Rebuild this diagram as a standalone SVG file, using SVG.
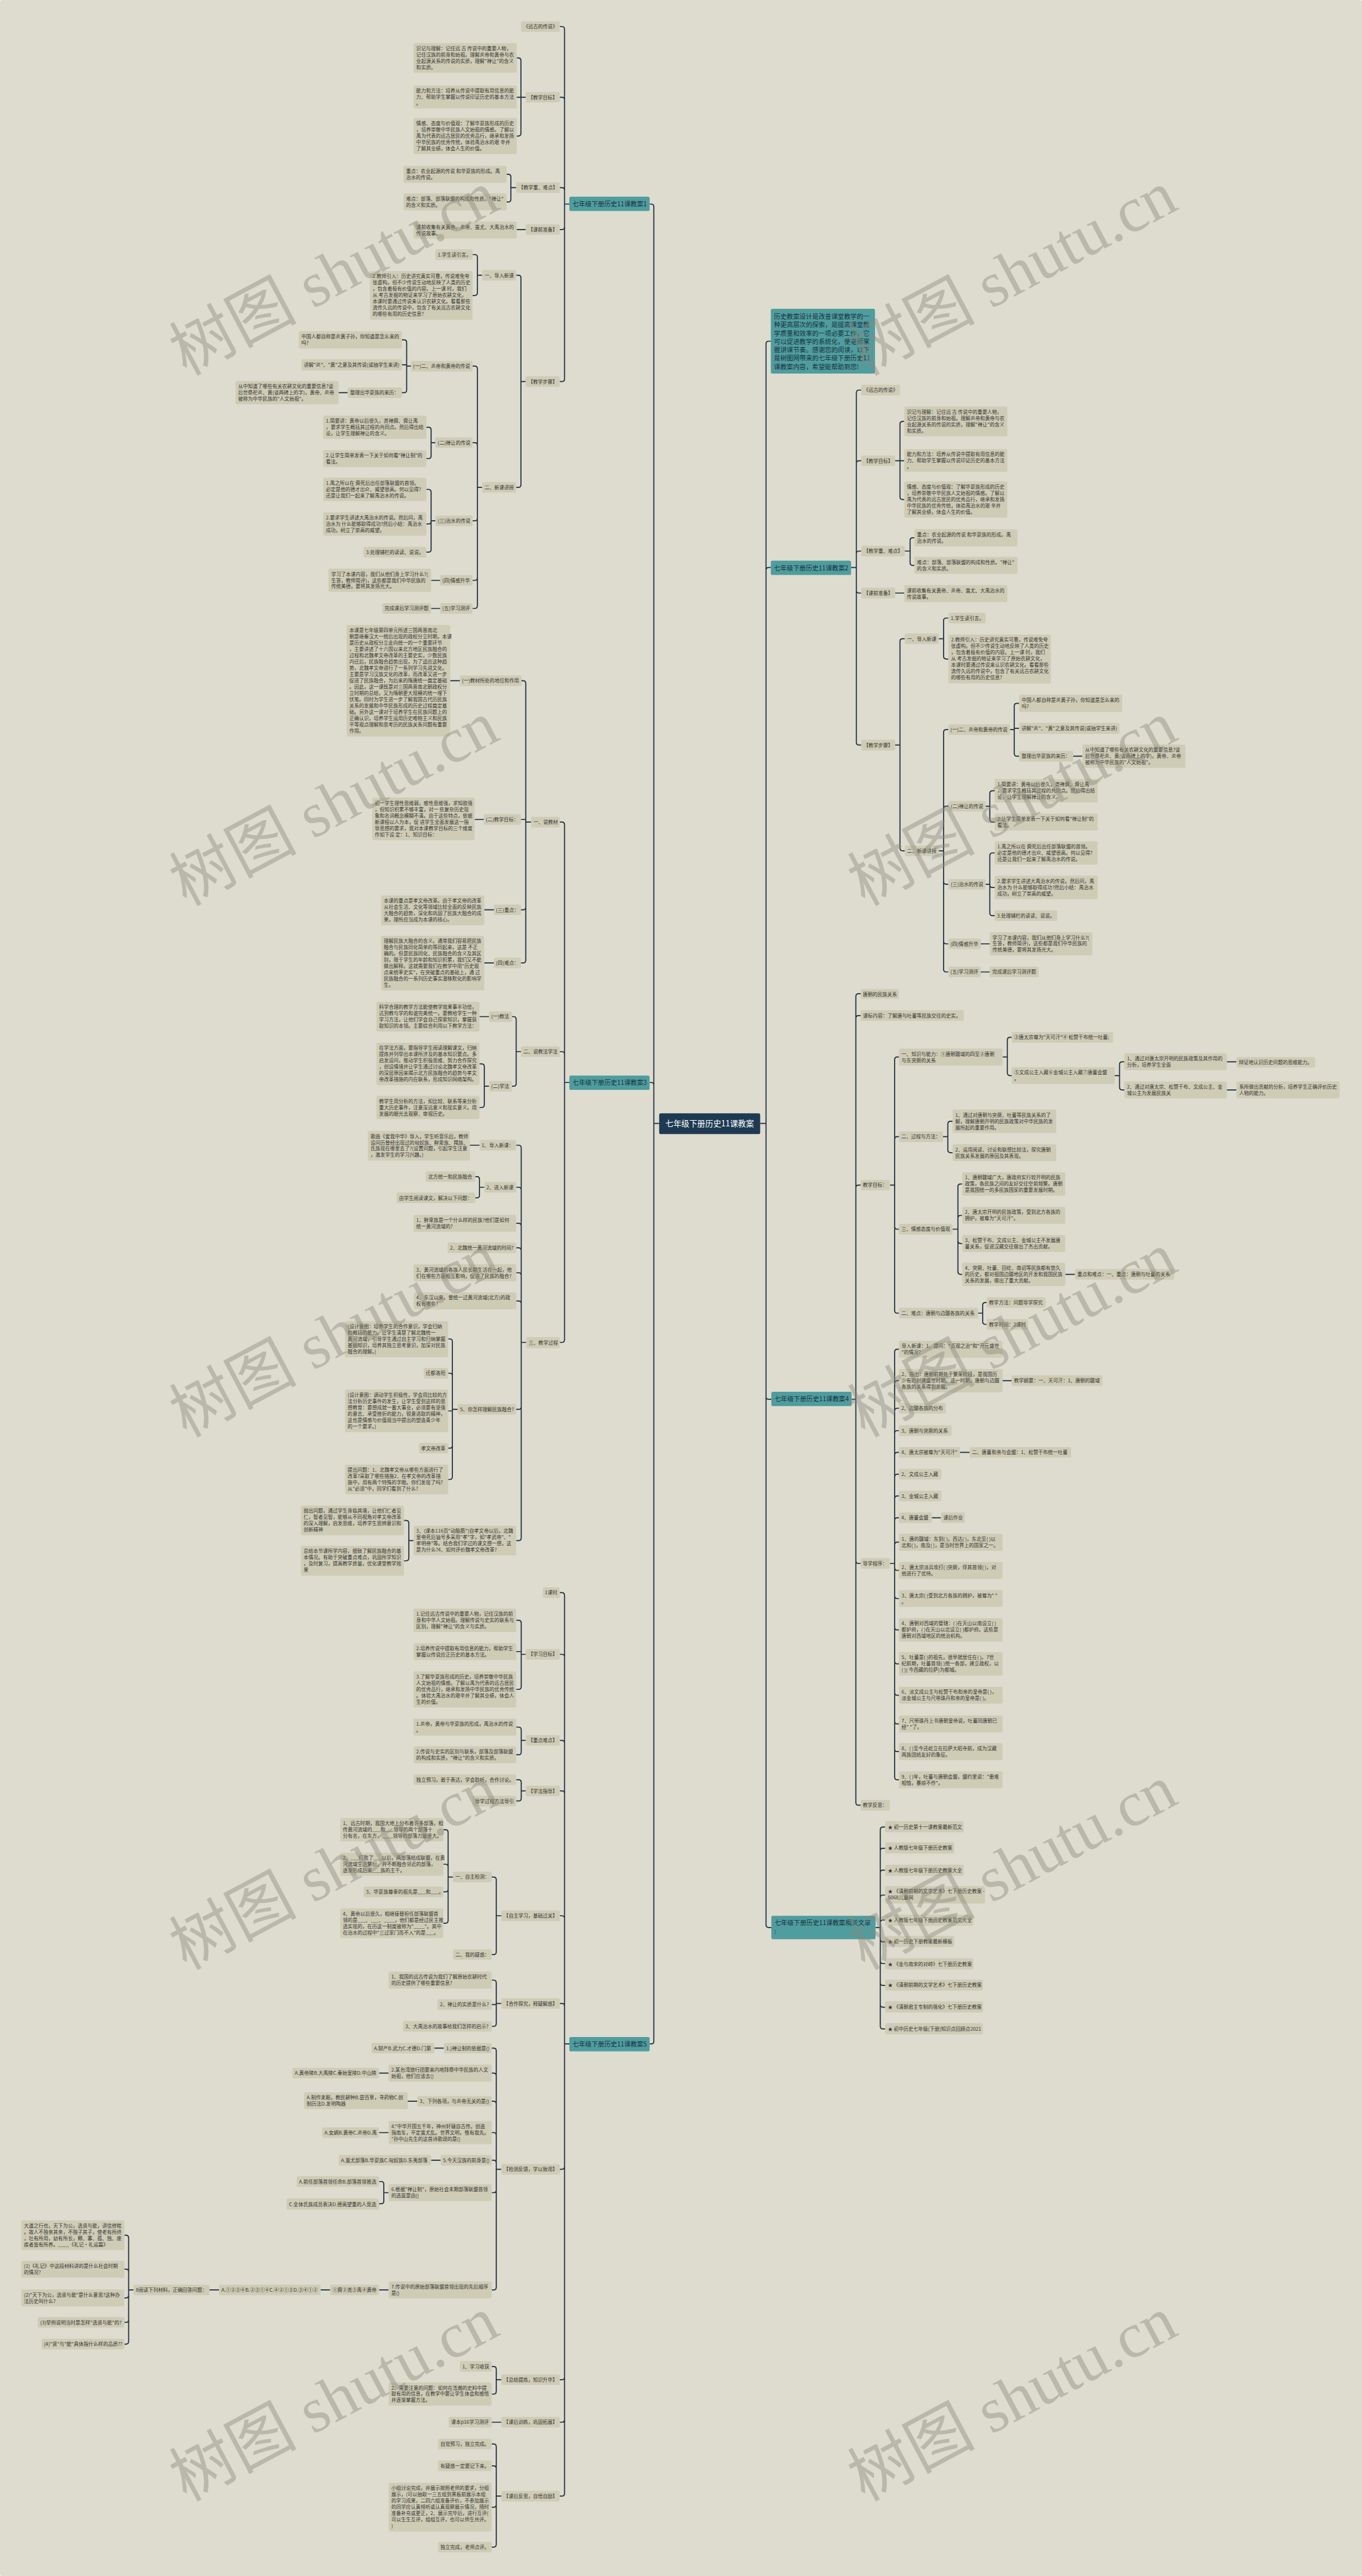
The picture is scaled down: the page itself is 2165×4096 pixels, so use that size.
<svg xmlns="http://www.w3.org/2000/svg" width="2165" height="4096" viewBox="0 0 2165 4096">
<style>
text{font-family:"Noto Sans CJK SC","Liberation Sans",sans-serif}
rect{rx:3px}
.n rect{fill:#cfccb6}
.n text{font-size:9.2px;fill:#333}
.b rect{fill:#4f9d9e}
.b text{font-size:12px;fill:#183040}
.c rect{fill:#1e3a52}
.c text{font-size:15px;fill:#fff}
.cn path{fill:none;stroke:#1d3043;stroke-width:2}
.wm text{font-family:"Liberation Serif","Noto Sans CJK SC",serif;font-size:120px;fill:#8a897a;opacity:.42}
</style>
<rect width="2165" height="4096" fill="#dedccf"/>
<g transform="scale(0.845)">
<g id="connectors" class="cn">
<path d="M1240,2114H1230M1230,2114V389Q1230,384 1225,384H1222M1230,2114V2042Q1230,2037 1225,2037H1222M1230,2114V3841Q1230,3846 1225,3846H1222M1430,2114H1441M1441,2114V647Q1441,642 1446,642H1450M1441,2114V1073Q1441,1068 1446,1068H1450M1441,2114V2628Q1441,2633 1446,2633H1451M1441,2114V3622Q1441,3627 1446,3627H1451"/>
<path d="M1071,384H1062M1062,384V55Q1062,50 1057,50H1053M1062,384V188Q1062,183 1057,183H1053M1062,384V358Q1062,353 1057,353H1053M1062,384V427Q1062,432 1057,432H1053M1062,384V713Q1062,718 1057,718H1053M989,183H980M980,183V114Q980,109 975,109H972M980,183H972M980,183V251Q980,256 975,256H972M971,353H961M961,353V333Q961,328 956,328H953M961,353V375Q961,380 956,380H953M989,432H972M989,718H980M980,718V523Q980,518 975,518H971M980,718V912Q980,917 975,917H971M907,518H898M898,518V484Q898,479 893,479H889M898,518V551Q898,556 893,556H889M907,917H898M898,917V694Q898,689 893,689H889M898,917V838Q898,833 893,833H889M898,917V975Q898,980 893,980H889M898,917V1087Q898,1092 893,1092H889M898,917V1140Q898,1145 893,1145H889M773,689H765M765,689V644.5Q765,639.5 760,639.5H756M765,689V686.5H756M765,689V734Q765,739 760,739H756M654,739H637M819,833H811M811,833V809Q811,804 806,804H802M811,833V858Q811,863 806,863H802M819,980H811M811,980V926Q811,921 806,921H802M811,980V981Q811,986 806,986H802M811,980V1034Q811,1039 806,1039H802M828,1092H811M828,1145H811"/>
<path d="M1601,1068H1611M1611,1068V739Q1611,734 1616,734H1620M1611,1068V872Q1611,867 1616,867H1620M1611,1068V1042Q1611,1037 1616,1037H1620M1611,1068V1111Q1611,1116 1616,1116H1620M1611,1068V1397Q1611,1402 1616,1402H1620M1684,867H1693M1693,867V798Q1693,793 1698,793H1701M1693,867H1701M1693,867V935Q1693,940 1698,940H1701M1702,1037H1712M1712,1037V1017Q1712,1012 1717,1012H1720M1712,1037V1059Q1712,1064 1717,1064H1720M1684,1116H1701M1684,1402H1693M1693,1402V1207Q1693,1202 1698,1202H1702M1693,1402V1596Q1693,1601 1698,1601H1702M1766,1202H1775M1775,1202V1168Q1775,1163 1780,1163H1784M1775,1202V1235Q1775,1240 1780,1240H1784M1766,1601H1775M1775,1601V1378Q1775,1373 1780,1373H1784M1775,1601V1522Q1775,1517 1780,1517H1784M1775,1601V1659Q1775,1664 1780,1664H1784M1775,1601V1771Q1775,1776 1780,1776H1784M1775,1601V1824Q1775,1829 1780,1829H1784M1900,1373H1908M1908,1373V1328.5Q1908,1323.5 1913,1323.5H1917M1908,1373V1370.5H1917M1908,1373V1418Q1908,1423 1913,1423H1917M2019,1423H2036M1854,1517H1862M1862,1517V1493Q1862,1488 1867,1488H1871M1862,1517V1542Q1862,1547 1867,1547H1871M1854,1664H1862M1862,1664V1610Q1862,1605 1867,1605H1871M1862,1664V1665Q1862,1670 1867,1670H1871M1862,1664V1718Q1862,1723 1867,1723H1871M1845,1776H1862M1845,1829H1862"/>
<path d="M1071,2037H1062M1062,2037V1552Q1062,1547 1057,1547H1053M1062,2037V1984Q1062,1979 1057,1979H1053M1062,2037V2521Q1062,2526 1057,2526H1053M999,1547H989M989,1547V1286Q989,1281 984,1281H980M989,1547V1542H980M989,1547V1707Q989,1712 984,1712H980M989,1547V1807Q989,1812 984,1812H980M865,1281H847M910,1542H893M929,1712H911M929,1812H911M980,1979H971M971,1979V1918Q971,1913 966,1913H963M971,1979V2039Q971,2044 966,2044H963M920,1913H902M920,2044H911M911,2044V2007Q911,2002 906,2002H902M911,2044V2079Q911,2084 906,2084H902M990,2526H980.5M980.5,2526V2160Q980.5,2155 975.5,2155H971M980.5,2526V2239Q980.5,2234 975.5,2234H971M980.5,2526V2307Q980.5,2302 975.5,2302H971M980.5,2526V2353Q980.5,2348 975.5,2348H971M980.5,2526V2400Q980.5,2395 975.5,2395H971M980.5,2526V2453Q980.5,2448 975.5,2448H971M980.5,2526V2647Q980.5,2652 975.5,2652H971M980.5,2526V2894Q980.5,2899 975.5,2899H971M902,2155H884M911,2234H902M902,2234V2219Q902,2214 897,2214H894M902,2234V2249Q902,2254 897,2254H894M861,2652H851M851,2652V2524.5Q851,2519.5 846,2519.5H843M851,2652V2589Q851,2584 846,2584H843M851,2652V2655H843M851,2652V2720Q851,2725 846,2725H843M851,2652V2779Q851,2784 846,2784H843M778,2899H769M769,2899V2866Q769,2861 764,2861H760M769,2899V2932Q769,2937 764,2937H760"/>
<path d="M1071,3846H1062M1062,3846V3002Q1062,2997 1057,2997H1053M1062,3846V3118Q1062,3113 1057,3113H1053M1062,3846V3280Q1062,3275 1057,3275H1053M1062,3846V3375Q1062,3370 1057,3370H1053M1062,3846V3610Q1062,3605 1057,3605H1053M1062,3846V3775Q1062,3770 1057,3770H1053M1062,3846V4077Q1062,4082 1057,4082H1053M1062,3846V4473Q1062,4478 1057,4478H1053M1062,3846V4553Q1062,4558 1057,4558H1053M1062,3846V4692Q1062,4697 1057,4697H1053M989,3113H980.5M980.5,3113V3054Q980.5,3049 975.5,3049H971M980.5,3113V3108H971M980.5,3113V3174Q980.5,3179 975.5,3179H971M989,3275H980.5M980.5,3275V3255Q980.5,3250 975.5,3250H971M980.5,3275V3297Q980.5,3302 975.5,3302H971M989,3370H980.5M980.5,3370V3354Q980.5,3349 975.5,3349H971M980.5,3370V3384Q980.5,3389 975.5,3389H971M943,3605H933.5M933.5,3605V3537Q933.5,3532 928.5,3532H925M933.5,3605V3673Q933.5,3678 928.5,3678H925M852,3532H843M843,3532V3448Q843,3443 838,3443H834M843,3532V3513Q843,3508 838,3508H834M843,3532V3555Q843,3560 838,3560H834M843,3532V3614Q843,3619 838,3619H834M943,3770H933.5M933.5,3770V3731Q933.5,3726 928.5,3726H925M933.5,3770V3772H925M933.5,3770V3808Q933.5,3813 928.5,3813H925M943,4082H933.5M933.5,4082V3859Q933.5,3854 928.5,3854H925M933.5,4082V3906Q933.5,3901 928.5,3901H925M933.5,4082V3959Q933.5,3954 928.5,3954H925M933.5,4082V4018Q933.5,4013 928.5,4013H925M933.5,4082V4070Q933.5,4065 928.5,4065H925M933.5,4082V4121Q933.5,4126 928.5,4126H925M933.5,4082V4304Q933.5,4309 928.5,4309H925M835,3854H817M731,3901H713M785,3954H767M731,4013H713M829,4065H811M731,4126H722M722,4126V4110Q722,4105 717,4105H713M722,4126V4142Q722,4147 717,4147H713M731,4309H713M621,4309H603M412,4309H394M251,4309H242M242,4309V4211Q242,4206 237,4206H234M242,4309V4275Q242,4270 237,4270H234M242,4309V4319Q242,4324 237,4324H234M242,4309V4365Q242,4370 237,4370H234M242,4309V4406Q242,4411 237,4411H234M943,4478H933.5M933.5,4478V4458Q933.5,4453 928.5,4453H925M933.5,4478V4500Q933.5,4505 928.5,4505H925M943,4558H925M943,4697H933.5M933.5,4697V4604Q933.5,4599 928.5,4599H925M933.5,4697V4645Q933.5,4640 928.5,4640H925M933.5,4697V4713Q933.5,4718 928.5,4718H925M933.5,4697V4788Q933.5,4793 928.5,4793H925"/>
<path d="M1602,2633H1610M1610,2633V1875Q1610,1870 1615,1870H1619M1610,2633V1916Q1610,1911 1615,1911H1619M1610,2633V2235Q1610,2230 1615,2230H1619M1610,2633V2937Q1610,2942 1615,2942H1619M1610,2633V3392Q1610,3397 1615,3397H1619M1674,2230H1683M1683,2230V1994Q1683,1989 1688,1989H1691M1683,2230V2144Q1683,2139 1688,2139H1691M1683,2230V2308Q1683,2313 1688,2313H1691M1683,2230V2466Q1683,2471 1688,2471H1691M1886,1989H1895M1895,1989V1957Q1895,1952 1900,1952H1903M1895,1989V2019Q1895,2024 1900,2024H1903M2097,2024H2106M2106,2024V2003Q2106,1998 2111,1998H2115M2106,2024V2046Q2106,2051 2111,2051H2115M2308,1998H2326M2308,2051H2326M1774,2139H1783M1783,2139V2115Q1783,2110 1788,2110H1792M1783,2139V2164Q1783,2169 1788,2169H1792M1792,2313H1802M1802,2313V2233Q1802,2228 1807,2228H1810M1802,2313V2292Q1802,2287 1807,2287H1810M1802,2313V2335Q1802,2340 1807,2340H1810M1802,2313V2393Q1802,2398 1807,2398H1810M2004,2398H2022M1840,2471H1848.6M1848.6,2471V2456Q1848.6,2451 1853.6,2451H1856M1848.6,2471V2487Q1848.6,2492 1853.6,2492H1856M1674,2942H1683M1683,2942V2544Q1683,2539 1688,2539H1691M1683,2942V2603Q1683,2598 1688,2598H1691M1683,2942V2655Q1683,2650 1688,2650H1691M1683,2942V2697Q1683,2692 1688,2692H1691M1683,2942V2738Q1683,2733 1688,2733H1691M1683,2942V2779Q1683,2774 1688,2774H1691M1683,2942V2820Q1683,2815 1688,2815H1691M1683,2942V2861Q1683,2856 1688,2856H1691M1683,2942V2907Q1683,2902 1688,2902H1691M1683,2942V2950Q1683,2955 1688,2955H1691M1683,2942V3003Q1683,3008 1688,3008H1691M1683,2942V3062Q1683,3067 1688,3067H1691M1683,2942V3126Q1683,3131 1688,3131H1691M1683,2942V3185Q1683,3190 1688,3190H1691M1683,2942V3239Q1683,3244 1688,3244H1691M1683,2942V3291Q1683,3296 1688,3296H1691M1683,2942V3344Q1683,3349 1688,3349H1691M1886,2598H1903M1806,2733H1824M1753,2856H1770"/>
<path d="M1647,3627H1656M1656,3627V3443Q1656,3438 1661,3438H1665M1656,3627V3483Q1656,3478 1661,3478H1665M1656,3627V3524Q1656,3519 1661,3519H1665M1656,3627V3571Q1656,3566 1661,3566H1665M1656,3627V3618Q1656,3613 1661,3613H1665M1656,3627V3649Q1656,3654 1661,3654H1665M1656,3627V3690Q1656,3695 1661,3695H1665M1656,3627V3731Q1656,3736 1661,3736H1665M1656,3627V3772Q1656,3777 1661,3777H1665M1656,3627V3813Q1656,3818 1661,3818H1665"/>
</g>

<g id="center" class="c"><rect x="1240" y="2095" width="190" height="39"/><text x="1335" y="2120" text-anchor="middle">七年级下册历史11课教案</text></g>

<g id="desc" class="b"><rect x="1450" y="581" width="196" height="122"/><text x="1456" y="600"><tspan x="1456">历史教案设计是改善课堂教学的一</tspan><tspan x="1456" dy="15.7">种更高层次的探索，是提高课堂教</tspan><tspan x="1456" dy="15.7">学质量和效率的一项必要工作，它</tspan><tspan x="1456" dy="15.7">可以促进教学的系统化，使老师掌</tspan><tspan x="1456" dy="15.7">握讲课节奏。感谢您的阅读，以下</tspan><tspan x="1456" dy="15.7">是树图网带来的七年级下册历史11</tspan><tspan x="1456" dy="15.7">课教案内容，希望能帮助到您!</tspan></text></g>

<!-- 教案1 -->
<g id="b1" class="b"><rect x="1071" y="370" width="151" height="27"/><text x="1077" y="388">七年级下册历史11课教案1</text></g>
<g id="b1-1" class="n"><rect x="980" y="40" width="73" height="20"/><text x="984.5" y="53.5">《远古的传说》</text></g>
<g id="b1-2" class="n"><rect x="989" y="173" width="64" height="20"/><text x="993.5" y="186.5">【教学目标】</text></g>
<g id="b1-2-1" class="n"><rect x="778" y="81" width="194" height="56"/><text x="783" y="94.5"><tspan x="783">识记与理解：记住远 古 传说中的重要人物，</tspan><tspan x="783" dy="11.8">记住汉族的前身和始祖。理解炎帝和黄帝与农</tspan><tspan x="783" dy="11.8">业起源关系的传说的实质，理解"禅让"的含义</tspan><tspan x="783" dy="11.8">和实质。</tspan></text></g>
<g id="b1-2-2" class="n"><rect x="778" y="161" width="194" height="43"/><text x="783" y="174.5"><tspan x="783">能力和方法：培养从传说中提取有用信息的能</tspan><tspan x="783" dy="11.8">力、帮助学生掌握以传说印证历史的基本方法</tspan><tspan x="783" dy="11.8">。</tspan></text></g>
<g id="b1-2-3" class="n"><rect x="778" y="222" width="194" height="68"/><text x="783" y="235.5"><tspan x="783">情感、态度与价值观：了解华夏族形成的历史</tspan><tspan x="783" dy="11.8">，培养崇敬中华民族人文始祖的情感。了解以</tspan><tspan x="783" dy="11.8">禹为代表的远古居民的优秀品行，继承和发扬</tspan><tspan x="783" dy="11.8">中华民族的优秀传统，体验禹治水的艰 辛并</tspan><tspan x="783" dy="11.8">了解其业绩，体会人生的价值。</tspan></text></g>
<g id="b1-3" class="n"><rect x="971" y="343" width="82" height="20"/><text x="975.5" y="356.5">【教学重、难点】</text></g>
<g id="b1-3-1" class="n"><rect x="759" y="312" width="194" height="32"/><text x="764" y="325.5"><tspan x="764">重点：农业起源的传说 和华夏族的形成。禹</tspan><tspan x="764" dy="11.8">治水的传说。</tspan></text></g>
<g id="b1-3-2" class="n"><rect x="759" y="364" width="194" height="32"/><text x="764" y="377.5"><tspan x="764">难点：部落、部落联盟的构成和性质。"禅让"</tspan><tspan x="764" dy="11.8">的含义和实质。</tspan></text></g>
<g id="b1-4" class="n"><rect x="989" y="422" width="64" height="20"/><text x="993.5" y="435.5">【课前准备】</text></g>
<g id="b1-4-1" class="n"><rect x="778" y="417" width="194" height="32"/><text x="783" y="430.5"><tspan x="783">课前收集有关黄帝、炎帝、蚩尤、大禹治水的</tspan><tspan x="783" dy="11.8">传说故事。</tspan></text></g>
<g id="b1-5" class="n"><rect x="989" y="708" width="64" height="20"/><text x="993.5" y="721.5">【教学步骤】</text></g>
<g id="b1-5-1" class="n"><rect x="907" y="508" width="64" height="20"/><text x="911.5" y="521.5">一、导入新课</text></g>
<g id="b1-5-1-1" class="n"><rect x="819" y="469" width="70" height="20"/><text x="823.5" y="482.5">1.学生读引言。</text></g>
<g id="b1-5-1-2" class="n"><rect x="696" y="510" width="193" height="92"/><text x="701" y="523.5"><tspan x="701">2.教师引入：历史讲究真实可靠，传说难免夸</tspan><tspan x="701" dy="11.8">张虚构。但不少传说生动地反映了人类的历史</tspan><tspan x="701" dy="11.8">，包含着极有价值的内容。上一课 时，我们</tspan><tspan x="701" dy="11.8">从 考古发掘的物证来学习了原始农耕文化，</tspan><tspan x="701" dy="11.8">本课时要通过传说来认识农耕文化。看看那些</tspan><tspan x="701" dy="11.8">流传久远的传说中，包含了有关远古农耕文化</tspan><tspan x="701" dy="11.8">的哪些有用的历史信息?</tspan></text></g>
<g id="b1-5-2" class="n"><rect x="907" y="907" width="64" height="20"/><text x="911.5" y="920.5">二、新课讲授</text></g>
<g id="b1-5-2-1" class="n"><rect x="773" y="679" width="116" height="20"/><text x="777" y="692.5">(一)二、炎帝和黄帝的传说</text></g>
<g id="b1-5-2-1-1" class="n"><rect x="562" y="623" width="194" height="33"/><text x="567" y="636.5"><tspan x="567">中国人都自称是炎黄子孙，你知道是怎么来的</tspan><tspan x="567" dy="11.8">吗?</tspan></text></g>
<g id="b1-5-2-1-2" class="n"><rect x="567" y="676" width="189" height="21"/><text x="571.5" y="690">讲解"炎"、"黄"之意及其传说(或抽学生来讲)</text></g>
<g id="b1-5-2-1-3" class="n"><rect x="654" y="729" width="102" height="20"/><text x="658.5" y="742.5">整理出华夏族的来历：</text></g>
<g id="b1-5-2-1-3-1" class="n"><rect x="443" y="717" width="194" height="44"/><text x="448" y="730.5"><tspan x="448">从中知道了哪些有关农耕文化的重要信息?谈</tspan><tspan x="448" dy="11.8">后世祭祀炎、黄(谈两碑上的字)，黄帝、炎帝</tspan><tspan x="448" dy="11.8">被称为中华民族的"人文始祖"。</tspan></text></g>
<g id="b1-5-2-2" class="n"><rect x="819" y="823" width="70" height="20"/><text x="823.5" y="836.5">(二)禅让的传说</text></g>
<g id="b1-5-2-2-1" class="n"><rect x="608" y="782" width="194" height="44"/><text x="613" y="795.5"><tspan x="613">1.简要讲：黄帝以后很久，尧禅舜、舜让禹</tspan><tspan x="613" dy="11.8">，要求学生概括其过程的共同点。然后得出结</tspan><tspan x="613" dy="11.8">论，让学生理解禅让的含义。</tspan></text></g>
<g id="b1-5-2-2-2" class="n"><rect x="608" y="847" width="194" height="32"/><text x="613" y="860.5"><tspan x="613">2.让学生简单发表一下关于如何看"禅让制"的</tspan><tspan x="613" dy="11.8">看法。</tspan></text></g>
<g id="b1-5-2-3" class="n"><rect x="819" y="970" width="70" height="20"/><text x="823.5" y="983.5">(三)治水的传说</text></g>
<g id="b1-5-2-3-1" class="n"><rect x="608" y="899" width="194" height="44"/><text x="613" y="912.5"><tspan x="613">1.禹之所以在 舜死后出任部落联盟的首领。</tspan><tspan x="613" dy="11.8">必定是他的德才出众、威望很高。何以见得?</tspan><tspan x="613" dy="11.8">还是让我们一起来了解禹治水的传说。</tspan></text></g>
<g id="b1-5-2-3-2" class="n"><rect x="608" y="964" width="194" height="44"/><text x="613" y="977.5"><tspan x="613">2.要求学生讲述大禹治水的传说。然后问，禹</tspan><tspan x="613" dy="11.8">治水为 什么能够取得成功?然后小结：禹治水</tspan><tspan x="613" dy="11.8">成功，树立了崇高的威望。</tspan></text></g>
<g id="b1-5-2-3-3" class="n"><rect x="684" y="1029" width="118" height="20"/><text x="688.5" y="1042.5">3.处理辅栏的读读、说说。</text></g>
<g id="b1-5-2-4" class="n"><rect x="828" y="1082" width="61" height="20"/><text x="832" y="1095.5">(四)情感升华</text></g>
<g id="b1-5-2-4-1" class="n"><rect x="618" y="1070" width="193" height="44"/><text x="623" y="1083.5"><tspan x="623">学习了本课内容，我们从他们身上学习什么?(</tspan><tspan x="623" dy="11.8">生答，教师简评)，这些都是我们中华民族的</tspan><tspan x="623" dy="11.8">传统美德，要将其发扬光大。</tspan></text></g>
<g id="b1-5-2-5" class="n"><rect x="828" y="1135" width="61" height="20"/><text x="832" y="1148.5">(五)学习测评</text></g>
<g id="b1-5-2-5-1" class="n"><rect x="719" y="1135" width="92" height="20"/><text x="723.5" y="1148.5">完成课后学习测评题</text></g>

<!-- 教案2 -->
<g id="b2" class="b"><rect x="1450" y="1055" width="151" height="27"/><text x="1456" y="1073">七年级下册历史11课教案2</text></g>
<g id="b2-1" class="n"><rect x="1620" y="724" width="73" height="20"/><text x="1624.5" y="737.5">《远古的传说》</text></g>
<g id="b2-2" class="n"><rect x="1620" y="857" width="64" height="20"/><text x="1624.5" y="870.5">【教学目标】</text></g>
<g id="b2-2-1" class="n"><rect x="1701" y="765" width="194" height="56"/><text x="1706" y="778.5"><tspan x="1706">识记与理解：记住远 古 传说中的重要人物，</tspan><tspan x="1706" dy="11.8">记住汉族的前身和始祖。理解炎帝和黄帝与农</tspan><tspan x="1706" dy="11.8">业起源关系的传说的实质，理解"禅让"的含义</tspan><tspan x="1706" dy="11.8">和实质。</tspan></text></g>
<g id="b2-2-2" class="n"><rect x="1701" y="845" width="194" height="43"/><text x="1706" y="858.5"><tspan x="1706">能力和方法：培养从传说中提取有用信息的能</tspan><tspan x="1706" dy="11.8">力、帮助学生掌握以传说印证历史的基本方法</tspan><tspan x="1706" dy="11.8">。</tspan></text></g>
<g id="b2-2-3" class="n"><rect x="1701" y="906" width="194" height="68"/><text x="1706" y="919.5"><tspan x="1706">情感、态度与价值观：了解华夏族形成的历史</tspan><tspan x="1706" dy="11.8">，培养崇敬中华民族人文始祖的情感。了解以</tspan><tspan x="1706" dy="11.8">禹为代表的远古居民的优秀品行，继承和发扬</tspan><tspan x="1706" dy="11.8">中华民族的优秀传统，体验禹治水的艰 辛并</tspan><tspan x="1706" dy="11.8">了解其业绩，体会人生的价值。</tspan></text></g>
<g id="b2-3" class="n"><rect x="1620" y="1027" width="82" height="20"/><text x="1624.5" y="1040.5">【教学重、难点】</text></g>
<g id="b2-3-1" class="n"><rect x="1720" y="996" width="194" height="32"/><text x="1725" y="1009.5"><tspan x="1725">重点：农业起源的传说 和华夏族的形成。禹</tspan><tspan x="1725" dy="11.8">治水的传说。</tspan></text></g>
<g id="b2-3-2" class="n"><rect x="1720" y="1048" width="194" height="32"/><text x="1725" y="1061.5"><tspan x="1725">难点：部落、部落联盟的构成和性质。"禅让"</tspan><tspan x="1725" dy="11.8">的含义和实质。</tspan></text></g>
<g id="b2-4" class="n"><rect x="1620" y="1106" width="64" height="20"/><text x="1624.5" y="1119.5">【课前准备】</text></g>
<g id="b2-4-1" class="n"><rect x="1701" y="1101" width="194" height="32"/><text x="1706" y="1114.5"><tspan x="1706">课前收集有关黄帝、炎帝、蚩尤、大禹治水的</tspan><tspan x="1706" dy="11.8">传说故事。</tspan></text></g>
<g id="b2-5" class="n"><rect x="1620" y="1392" width="64" height="20"/><text x="1624.5" y="1405.5">【教学步骤】</text></g>
<g id="b2-5-1" class="n"><rect x="1702" y="1192" width="64" height="20"/><text x="1706.5" y="1205.5">一、导入新课</text></g>
<g id="b2-5-1-1" class="n"><rect x="1784" y="1153" width="70" height="20"/><text x="1788.5" y="1166.5">1.学生读引言。</text></g>
<g id="b2-5-1-2" class="n"><rect x="1784" y="1194" width="193" height="92"/><text x="1789" y="1207.5"><tspan x="1789">2.教师引入：历史讲究真实可靠，传说难免夸</tspan><tspan x="1789" dy="11.8">张虚构。但不少传说生动地反映了人类的历史</tspan><tspan x="1789" dy="11.8">，包含着极有价值的内容。上一课 时，我们</tspan><tspan x="1789" dy="11.8">从 考古发掘的物证来学习了原始农耕文化，</tspan><tspan x="1789" dy="11.8">本课时要通过传说来认识农耕文化。看看那些</tspan><tspan x="1789" dy="11.8">流传久远的传说中，包含了有关远古农耕文化</tspan><tspan x="1789" dy="11.8">的哪些有用的历史信息?</tspan></text></g>
<g id="b2-5-2" class="n"><rect x="1702" y="1591" width="64" height="20"/><text x="1706.5" y="1604.5">二、新课讲授</text></g>
<g id="b2-5-2-1" class="n"><rect x="1784" y="1363" width="116" height="20"/><text x="1788" y="1376.5">(一)二、炎帝和黄帝的传说</text></g>
<g id="b2-5-2-1-1" class="n"><rect x="1917" y="1307" width="194" height="33"/><text x="1922" y="1320.5"><tspan x="1922">中国人都自称是炎黄子孙，你知道是怎么来的</tspan><tspan x="1922" dy="11.8">吗?</tspan></text></g>
<g id="b2-5-2-1-2" class="n"><rect x="1917" y="1360" width="189" height="21"/><text x="1921.5" y="1374">讲解"炎"、"黄"之意及其传说(或抽学生来讲)</text></g>
<g id="b2-5-2-1-3" class="n"><rect x="1917" y="1413" width="102" height="20"/><text x="1921.5" y="1426.5">整理出华夏族的来历：</text></g>
<g id="b2-5-2-1-3-1" class="n"><rect x="2036" y="1401" width="194" height="44"/><text x="2041" y="1414.5"><tspan x="2041">从中知道了哪些有关农耕文化的重要信息?谈</tspan><tspan x="2041" dy="11.8">后世祭祀炎、黄(谈两碑上的字)，黄帝、炎帝</tspan><tspan x="2041" dy="11.8">被称为中华民族的"人文始祖"。</tspan></text></g>
<g id="b2-5-2-2" class="n"><rect x="1784" y="1507" width="70" height="20"/><text x="1788.5" y="1520.5">(二)禅让的传说</text></g>
<g id="b2-5-2-2-1" class="n"><rect x="1871" y="1466" width="194" height="44"/><text x="1876" y="1479.5"><tspan x="1876">1.简要讲：黄帝以后很久，尧禅舜、舜让禹</tspan><tspan x="1876" dy="11.8">，要求学生概括其过程的共同点。然后得出结</tspan><tspan x="1876" dy="11.8">论，让学生理解禅让的含义。</tspan></text></g>
<g id="b2-5-2-2-2" class="n"><rect x="1871" y="1531" width="194" height="32"/><text x="1876" y="1544.5"><tspan x="1876">2.让学生简单发表一下关于如何看"禅让制"的</tspan><tspan x="1876" dy="11.8">看法。</tspan></text></g>
<g id="b2-5-2-3" class="n"><rect x="1784" y="1654" width="70" height="20"/><text x="1788.5" y="1667.5">(三)治水的传说</text></g>
<g id="b2-5-2-3-1" class="n"><rect x="1871" y="1583" width="194" height="44"/><text x="1876" y="1596.5"><tspan x="1876">1.禹之所以在 舜死后出任部落联盟的首领。</tspan><tspan x="1876" dy="11.8">必定是他的德才出众、威望很高。何以见得?</tspan><tspan x="1876" dy="11.8">还是让我们一起来了解禹治水的传说。</tspan></text></g>
<g id="b2-5-2-3-2" class="n"><rect x="1871" y="1648" width="194" height="44"/><text x="1876" y="1661.5"><tspan x="1876">2.要求学生讲述大禹治水的传说。然后问，禹</tspan><tspan x="1876" dy="11.8">治水为 什么能够取得成功?然后小结：禹治水</tspan><tspan x="1876" dy="11.8">成功，树立了崇高的威望。</tspan></text></g>
<g id="b2-5-2-3-3" class="n"><rect x="1871" y="1713" width="118" height="20"/><text x="1875.5" y="1726.5">3.处理辅栏的读读、说说。</text></g>
<g id="b2-5-2-4" class="n"><rect x="1784" y="1766" width="61" height="20"/><text x="1788" y="1779.5">(四)情感升华</text></g>
<g id="b2-5-2-4-1" class="n"><rect x="1862" y="1754" width="193" height="44"/><text x="1867" y="1767.5"><tspan x="1867">学习了本课内容，我们从他们身上学习什么?(</tspan><tspan x="1867" dy="11.8">生答，教师简评)，这些都是我们中华民族的</tspan><tspan x="1867" dy="11.8">传统美德，要将其发扬光大。</tspan></text></g>
<g id="b2-5-2-5" class="n"><rect x="1784" y="1819" width="61" height="20"/><text x="1788" y="1832.5">(五)学习测评</text></g>
<g id="b2-5-2-5-1" class="n"><rect x="1862" y="1819" width="92" height="20"/><text x="1866.5" y="1832.5">完成课后学习测评题</text></g>

<!-- 教案3 -->
<g id="b3" class="b"><rect x="1071" y="2024" width="151" height="27"/><text x="1077" y="2042">七年级下册历史11课教案3</text></g>
<g id="b3-1" class="n"><rect x="999" y="1537" width="54" height="20"/><text x="1003.5" y="1550.5">一、说教材</text></g>
<g id="b3-1-1" class="n"><rect x="865" y="1271" width="116" height="20"/><text x="869" y="1284.5">(一)教材所处的地位和作用</text></g>
<g id="b3-1-1-1" class="n"><rect x="652" y="1176" width="195" height="210"/><text x="657" y="1189.5"><tspan x="657">本课是七年级第四单元所述三国两晋南北</tspan><tspan x="657" dy="11.8">朝是继秦汉大一统后出现的政权分立时期，本课</tspan><tspan x="657" dy="11.8">是历史从政权分立走向统一的一个重要环节</tspan><tspan x="657" dy="11.8">，主要讲述了十六国以来北方地区民族融合的</tspan><tspan x="657" dy="11.8">过程和北魏孝文帝改革的主要史实，少数民族</tspan><tspan x="657" dy="11.8">内迁后，民族融合趋势出现，为了适应这种趋</tspan><tspan x="657" dy="11.8">势，北魏孝文帝进行了一系列学习先进文化，</tspan><tspan x="657" dy="11.8">主要是学习汉族文化的改革，而改革又进一步</tspan><tspan x="657" dy="11.8">促进了民族融合，为后来的隋唐统一奠定基础</tspan><tspan x="657" dy="11.8">。因此，这一课既是对三国两晋南北朝政权分</tspan><tspan x="657" dy="11.8">立时期的总结，又为隋朝更大规模的统一埋下</tspan><tspan x="657" dy="11.8">伏笔。同时为学生进一步了解我国古代历民族</tspan><tspan x="657" dy="11.8">关系的发展和中华民族形成的历史过程奠定基</tspan><tspan x="657" dy="11.8">础。另外这一课对于培养学生在民族问题上的</tspan><tspan x="657" dy="11.8">正确认识，培养学生运用历史唯物主义和民族</tspan><tspan x="657" dy="11.8">平等观点理解和思考历的民族关系问题有重要</tspan><tspan x="657" dy="11.8">作用。</tspan></text></g>
<g id="b3-1-2" class="n"><rect x="910" y="1532" width="70" height="20"/><text x="914" y="1545.5">(二)教学目标：</text></g>
<g id="b3-1-2-1" class="n"><rect x="700" y="1501" width="193" height="80"/><text x="705" y="1514.5"><tspan x="705">初一学生理性思维弱，感性思维强，求知欲强</tspan><tspan x="705" dy="11.8">，但知识积累不够丰富，对一 些复杂历史现</tspan><tspan x="705" dy="11.8">象和名词概念模糊不清。由于这些特点，依据</tspan><tspan x="705" dy="11.8">新课程以人为本，促 进学生全面发展这一指</tspan><tspan x="705" dy="11.8">导思想的要求，我对本课教学目标的三个维度</tspan><tspan x="705" dy="11.8">作如下设 定：1、知识目标：</tspan></text></g>
<g id="b3-1-3" class="n"><rect x="929" y="1702" width="51" height="20"/><text x="933" y="1715.5">(三)重点：</text></g>
<g id="b3-1-3-1" class="n"><rect x="717" y="1685" width="194" height="56"/><text x="722" y="1698.5"><tspan x="722">本课的重点是孝文帝改革。由于孝文帝的改革</tspan><tspan x="722" dy="11.8">从社会生活、文化等领域比较全面的反映民族</tspan><tspan x="722" dy="11.8">大融合的趋势，深化和巩固了民族大融合的成</tspan><tspan x="722" dy="11.8">果，理所应当成为本课的核心。</tspan></text></g>
<g id="b3-1-4" class="n"><rect x="929" y="1802" width="51" height="20"/><text x="933" y="1815.5">(四)难点：</text></g>
<g id="b3-1-4-1" class="n"><rect x="717" y="1761" width="194" height="103"/><text x="722" y="1774.5"><tspan x="722">理解民族大融合的含义。通常我们容易把民族</tspan><tspan x="722" dy="11.8">融合与民族同化简单的等同起来，这是 不正</tspan><tspan x="722" dy="11.8">确的。但是民族同化、民族融合的含义及其区</tspan><tspan x="722" dy="11.8">别，限于学生的年龄和知识积累，我们又不能</tspan><tspan x="722" dy="11.8">做出解释。这就需要我们在教学中用"历史观</tspan><tspan x="722" dy="11.8">点来统率史实"，在突破重点的基础上，通 过</tspan><tspan x="722" dy="11.8">民族融合的一系列历史事实潜移默化的影响学</tspan><tspan x="722" dy="11.8">生。</tspan></text></g>
<g id="b3-2" class="n"><rect x="980" y="1969" width="73" height="20"/><text x="984.5" y="1982.5">二、说教法学法</text></g>
<g id="b3-2-1" class="n"><rect x="920" y="1903" width="43" height="20"/><text x="924" y="1916.5">(一)教法</text></g>
<g id="b3-2-1-1" class="n"><rect x="708" y="1885" width="194" height="56"/><text x="713" y="1898.5"><tspan x="713">科学合理的教学方法能使教学效果事半功倍，</tspan><tspan x="713" dy="11.8">达到教与学的和谐完美统一。要教给学生一种</tspan><tspan x="713" dy="11.8">学习方法，让他们学会自己探索知识，掌握获</tspan><tspan x="713" dy="11.8">取知识的本领。主要综合利用以下教学方法：</tspan></text></g>
<g id="b3-2-2" class="n"><rect x="920" y="2034" width="43" height="20"/><text x="924" y="2047.5">(二)学法</text></g>
<g id="b3-2-2-1" class="n"><rect x="708" y="1962" width="194" height="80"/><text x="713" y="1975.5"><tspan x="713">在学法方面，要指导学生阅读理解课文，归纳</tspan><tspan x="713" dy="11.8">提炼并列举出本课所涉及的基本知识要点。多</tspan><tspan x="713" dy="11.8">启发设问，推动学生积极思维、努力合作探究</tspan><tspan x="713" dy="11.8">，创设情境并让学生通过讨论北魏孝文帝改革</tspan><tspan x="713" dy="11.8">的深层原因来揭示北方民族融合的趋势与孝文</tspan><tspan x="713" dy="11.8">帝改革措施的内在联系，形成知识网络架构。</tspan></text></g>
<g id="b3-2-2-2" class="n"><rect x="708" y="2062" width="194" height="44"/><text x="713" y="2075.5"><tspan x="713">教学生用分析的方法，如比较、联系等来分析</tspan><tspan x="713" dy="11.8">重大历史事件，注意深远意义和现实意义。用</tspan><tspan x="713" dy="11.8">发展的眼光去观察、审视历史。</tspan></text></g>
<g id="b3-3" class="n"><rect x="990" y="2516" width="63" height="21"/><text x="994.5" y="2530">三、教学过程</text></g>
<g id="b3-3-1" class="n"><rect x="902" y="2145" width="69" height="20"/><text x="906" y="2158.5">1、导入新课：</text></g>
<g id="b3-3-1-1" class="n"><rect x="692" y="2128" width="192" height="56"/><text x="697" y="2141.5"><tspan x="697">歌曲《爱我中华》导入，学生听音乐后，教师</tspan><tspan x="697" dy="11.8">设问历曾经出现过的匈奴族、鲜卑族、羯族、</tspan><tspan x="697" dy="11.8">氐族现在哪里去了?(设置问题，引起学生注意</tspan><tspan x="697" dy="11.8">，激发学生的学习兴趣。)</tspan></text></g>
<g id="b3-3-2" class="n"><rect x="911" y="2224" width="60" height="20"/><text x="915" y="2237.5">2、进入新课</text></g>
<g id="b3-3-2-1" class="n"><rect x="801" y="2204" width="93" height="20"/><text x="805.5" y="2217.5">北方统一和民族融合</text></g>
<g id="b3-3-2-2" class="n"><rect x="746" y="2244" width="148" height="20"/><text x="750.5" y="2257.5">由学生阅读课文，解决以下问题：</text></g>
<g id="b3-3-3" class="n"><rect x="778" y="2286" width="193" height="32"/><text x="783" y="2299.5"><tspan x="783">1、鲜卑族是一个什么样的民族?他们是如何</tspan><tspan x="783" dy="11.8">统一黄河流域的?</tspan></text></g>
<g id="b3-3-4" class="n"><rect x="842" y="2338" width="129" height="20"/><text x="846.5" y="2351.5">2、北魏统一黄河流域的时间?</text></g>
<g id="b3-3-5" class="n"><rect x="778" y="2379" width="193" height="32"/><text x="783" y="2392.5"><tspan x="783">3、黄河流域的各族人民长期生活在一起，他</tspan><tspan x="783" dy="11.8">们在哪些方面相互影响，促进了民族的融合?</tspan></text></g>
<g id="b3-3-6" class="n"><rect x="778" y="2432" width="193" height="32"/><text x="783" y="2445.5"><tspan x="783">4、东汉以来，曾统一过黄河流域(北方)的政</tspan><tspan x="783" dy="11.8">权有哪些?</tspan></text></g>
<g id="b3-3-7" class="n"><rect x="861" y="2642" width="110" height="20"/><text x="865.5" y="2655.5">5、你怎样理解民族融合?</text></g>
<g id="b3-3-7-1" class="n"><rect x="649" y="2486" width="194" height="68"/><text x="654" y="2499.5"><tspan x="654">(设计意图：培养学生的合作意识，学会归纳</tspan><tspan x="654" dy="11.8">和概括的能力。让学生清楚了解北魏统一</tspan><tspan x="654" dy="11.8">黄河流域，引导学生通过自主学习和归纳掌握</tspan><tspan x="654" dy="11.8">基础知识，培养其独立思考意识，加深对民族</tspan><tspan x="654" dy="11.8">融合的理解。)</tspan></text></g>
<g id="b3-3-7-2" class="n"><rect x="797" y="2574" width="46" height="20"/><text x="801" y="2587.5">迁都洛阳</text></g>
<g id="b3-3-7-3" class="n"><rect x="649" y="2615" width="194" height="80"/><text x="654" y="2628.5"><tspan x="654">(设计意图：调动学生积极性，学会用比较的方</tspan><tspan x="654" dy="11.8">法分析历史事件的发生，让学生受到这样的思</tspan><tspan x="654" dy="11.8">想教育：要想成就一番大事业，必须要有坚强</tspan><tspan x="654" dy="11.8">的意志、承受挫折的能力，锐意进取的精神，</tspan><tspan x="654" dy="11.8">这也是情感与价值观当中提出的塑造青少年</tspan><tspan x="654" dy="11.8">的一个要求。)</tspan></text></g>
<g id="b3-3-7-4" class="n"><rect x="788" y="2715" width="55" height="20"/><text x="792" y="2728.5">孝文帝改革</text></g>
<g id="b3-3-7-5" class="n"><rect x="649" y="2756" width="194" height="56"/><text x="654" y="2769.5"><tspan x="654">提出问题：1、北魏孝文帝从哪些方面进行了</tspan><tspan x="654" dy="11.8">改革?采取了哪些措施2、在孝文帝的改革措</tspan><tspan x="654" dy="11.8">施中，用有两个特殊的字眼。你们发现了吗?</tspan><tspan x="654" dy="11.8">从"必须"中，同学们看到了什么?</tspan></text></g>
<g id="b3-3-8" class="n"><rect x="778" y="2871" width="193" height="56"/><text x="783" y="2884.5"><tspan x="783">3、(课本116页"动脑筋")自孝文帝以后，北魏</tspan><tspan x="783" dy="11.8">皇帝死后谥号多采用"孝"字，如"孝武帝"、"</tspan><tspan x="783" dy="11.8">孝明帝"等。结合我们学过的课文想一想，这</tspan><tspan x="783" dy="11.8">是为什么?4、如何评价魏孝文帝改革?</tspan></text></g>
<g id="b3-3-8-1" class="n"><rect x="566" y="2833" width="194" height="56"/><text x="571" y="2846.5"><tspan x="571">抛出问题，通过学生身临其境，让他们仁者见</tspan><tspan x="571" dy="11.8">仁，智者见智，能够从不同视角对孝文帝改革</tspan><tspan x="571" dy="11.8">的深入理解，启发思维，培养学生思辨意识和</tspan><tspan x="571" dy="11.8">创新精神</tspan></text></g>
<g id="b3-3-8-2" class="n"><rect x="566" y="2909" width="194" height="56"/><text x="571" y="2922.5"><tspan x="571">总结本节课所学内容，细致了解民族融合的基</tspan><tspan x="571" dy="11.8">本情况。有助于突破重点难点，巩固所学知识</tspan><tspan x="571" dy="11.8">，及时复习，提高教学质量，优化课堂教学效</tspan><tspan x="571" dy="11.8">果</tspan></text></g>

<!-- 教案5 -->
<g id="b5" class="b"><rect x="1071" y="3833" width="151" height="27"/><text x="1077" y="3851">七年级下册历史11课教案5</text></g>
<g id="b5-1" class="n"><rect x="1021" y="2987" width="32" height="20"/><text x="1025" y="3000.5">1课时</text></g>
<g id="b5-2" class="n"><rect x="989" y="3103" width="64" height="20"/><text x="993.5" y="3116.5">【学习目标】</text></g>
<g id="b5-2-1" class="n"><rect x="778" y="3027" width="193" height="44"/><text x="783" y="3040.5"><tspan x="783">1.记住远古传说中的重要人物，记住汉族的前</tspan><tspan x="783" dy="11.8">身和中华人文始祖。理解传说与史实的联系与</tspan><tspan x="783" dy="11.8">区别，理解"禅让"的含义与实质。</tspan></text></g>
<g id="b5-2-2" class="n"><rect x="778" y="3092" width="193" height="32"/><text x="783" y="3105.5"><tspan x="783">2.培养传说中提取有用信息的能力，帮助学生</tspan><tspan x="783" dy="11.8">掌握以传说应正历史的基本方法。</tspan></text></g>
<g id="b5-2-3" class="n"><rect x="778" y="3145" width="193" height="68"/><text x="783" y="3158.5"><tspan x="783">3.了解华夏族形成的历史，培养崇敬中华民族</tspan><tspan x="783" dy="11.8">人文始祖的情感。了解以禹为代表的远古居民</tspan><tspan x="783" dy="11.8">的优秀品行，继承和发扬中华民族的优秀传统</tspan><tspan x="783" dy="11.8">。体验大禹治水的艰辛并了解其业绩，体会人</tspan><tspan x="783" dy="11.8">生的价值。</tspan></text></g>
<g id="b5-3" class="n"><rect x="989" y="3265" width="64" height="20"/><text x="993.5" y="3278.5">【重点难点】</text></g>
<g id="b5-3-1" class="n"><rect x="778" y="3234" width="193" height="32"/><text x="783" y="3247.5"><tspan x="783">1.炎帝，黄帝与华夏族的形成，禹治水的传说</tspan><tspan x="783" dy="11.8">。</tspan></text></g>
<g id="b5-3-2" class="n"><rect x="778" y="3286" width="193" height="32"/><text x="783" y="3299.5"><tspan x="783">2.传说与史实的区别与联系，部落及部落联盟</tspan><tspan x="783" dy="11.8">的构成和实质，"禅让"的含义和实质。</tspan></text></g>
<g id="b5-4" class="n"><rect x="989" y="3360" width="64" height="20"/><text x="993.5" y="3373.5">【学法指导】</text></g>
<g id="b5-4-1" class="n"><rect x="778" y="3339" width="193" height="20"/><text x="783" y="3352.5">独立预习，敢于表达，学会聆听，合作讨论。</text></g>
<g id="b5-4-2" class="n"><rect x="889" y="3379" width="82" height="20"/><text x="893.5" y="3392.5">导学过程方法导引</text></g>
<g id="b5-5" class="n"><rect x="943" y="3595" width="110" height="20"/><text x="947.5" y="3608.5">【自主学习，基础过关】</text></g>
<g id="b5-5-1" class="n"><rect x="852" y="3522" width="73" height="20"/><text x="856.5" y="3535.5">一、自主检测：</text></g>
<g id="b5-5-1-1" class="n"><rect x="640" y="3421" width="194" height="44"/><text x="645" y="3434.5"><tspan x="645">1、远古时期，我国大地上分布着许多部落，相</tspan><tspan x="645" dy="11.8">传黄河流域的___和___领导的两个部落十</tspan><tspan x="645" dy="11.8">分有名，在东方，____领导的部落力量很大。</tspan></text></g>
<g id="b5-5-1-2" class="n"><rect x="640" y="3486" width="194" height="44"/><text x="645" y="3499.5"><tspan x="645">2、___打败了___以后，两部落结成联盟，在黄</tspan><tspan x="645" dy="11.8">河流域生活繁衍，并不断融合邻近的部落，</tspan><tspan x="645" dy="11.8">逐渐形成后来___族的主干。</tspan></text></g>
<g id="b5-5-1-3" class="n"><rect x="684" y="3550" width="150" height="20"/><text x="688.5" y="3563.5">3、华夏族尊奉的祖先是___和___。</text></g>
<g id="b5-5-1-4" class="n"><rect x="640" y="3591" width="194" height="56"/><text x="645" y="3604.5"><tspan x="645">4、黄帝以后很久，相继接替担任部落联盟首</tspan><tspan x="645" dy="11.8">领的是___、___、____，他们都是经过民主推</tspan><tspan x="645" dy="11.8">选实现的，在历这一制度被称为"____"。其中</tspan><tspan x="645" dy="11.8">在治水的过程中"三过家门而不入"的是___。</tspan></text></g>
<g id="b5-5-2" class="n"><rect x="852" y="3668" width="73" height="20"/><text x="856.5" y="3681.5">二、我的疑惑：</text></g>
<g id="b5-6" class="n"><rect x="943" y="3760" width="110" height="20"/><text x="947.5" y="3773.5">【合作探究，释疑解惑】</text></g>
<g id="b5-6-1" class="n"><rect x="731" y="3710" width="194" height="32"/><text x="736" y="3723.5"><tspan x="736">1、我国的远古传说为我们了解原始农耕时代</tspan><tspan x="736" dy="11.8">的历史提供了哪些重要信息?</tspan></text></g>
<g id="b5-6-2" class="n"><rect x="823" y="3762" width="102" height="20"/><text x="827.5" y="3775.5">2、禅让的实质是什么?</text></g>
<g id="b5-6-3" class="n"><rect x="758" y="3803" width="167" height="20"/><text x="762.5" y="3816.5">3、大禹治水的故事给我们怎样的启示?</text></g>
<g id="b5-7" class="n"><rect x="943" y="4072" width="110" height="20"/><text x="947.5" y="4085.5">【检测反馈，学以致用】</text></g>
<g id="b5-7-1" class="n"><rect x="835" y="3844" width="90" height="20"/><text x="839.5" y="3857.5">1.)禅让制的依据是()</text></g>
<g id="b5-7-1-1" class="n"><rect x="699" y="3844" width="118" height="20"/><text x="703.5" y="3857.5">A.财产B.武力C.才德D.门第</text></g>
<g id="b5-7-2" class="n"><rect x="731" y="3885" width="194" height="32"/><text x="736" y="3898.5"><tspan x="736">2.某台湾旅行团要来内地拜祭中华民族的人文</tspan><tspan x="736" dy="11.8">始祖，他们应该去()</tspan></text></g>
<g id="b5-7-2-1" class="n"><rect x="550" y="3891" width="163" height="20"/><text x="554.5" y="3904.5">A.黄帝陵B.大禹陵C.秦始皇陵D.中山陵</text></g>
<g id="b5-7-3" class="n"><rect x="785" y="3944" width="140" height="20"/><text x="789.5" y="3957.5">3、下列各项，与炎帝无关的是()</text></g>
<g id="b5-7-3-1" class="n"><rect x="572" y="3937" width="195" height="32"/><text x="577" y="3950.5"><tspan x="577">A.制作耒耜，教民耕种B.尝百草，寻药物C.创</tspan><tspan x="577" dy="11.8">制历法D.发明陶器</tspan></text></g>
<g id="b5-7-4" class="n"><rect x="731" y="3991" width="194" height="44"/><text x="736" y="4004.5"><tspan x="736">4."中华开国五千年，神州轩辕自古传。创造</tspan><tspan x="736" dy="11.8">指南车，平定蚩尤乱。世界文明，惟有我先。</tspan><tspan x="736" dy="11.8">"孙中山先生的这首诗歌颂的是()</tspan></text></g>
<g id="b5-7-4-1" class="n"><rect x="606" y="4003" width="107" height="20"/><text x="610.5" y="4016.5">A.女娲B.黄帝C.炎帝D.禹</text></g>
<g id="b5-7-5" class="n"><rect x="829" y="4055" width="96" height="20"/><text x="833.5" y="4068.5">5.今天汉族的前身是()</text></g>
<g id="b5-7-5-1" class="n"><rect x="637" y="4055" width="174" height="20"/><text x="641.5" y="4068.5">A.蚩尤部落B.华夏族C.匈奴族D.东夷部落</text></g>
<g id="b5-7-6" class="n"><rect x="731" y="4110" width="194" height="32"/><text x="736" y="4123.5"><tspan x="736">6.根据"禅让制"，原始社会末期部落联盟首领</tspan><tspan x="736" dy="11.8">的选拔是由()</tspan></text></g>
<g id="b5-7-6-1" class="n"><rect x="558" y="4095" width="155" height="20"/><text x="562.5" y="4108.5">A.前任部落首领任命B.部落首领推选</text></g>
<g id="b5-7-6-2" class="n"><rect x="539" y="4137" width="174" height="21"/><text x="543.5" y="4151">C.全体氏族成员表决D.德高望重的人竞选</text></g>
<g id="b5-7-7" class="n"><rect x="731" y="4293" width="194" height="32"/><text x="736" y="4306.5"><tspan x="736">7.传说中的原始部落联盟首领出现的先后顺序</tspan><tspan x="736" dy="11.8">是()</tspan></text></g>
<g id="b5-7-7-1" class="n"><rect x="621" y="4299" width="92" height="20"/><text x="625.5" y="4312.5">①舜②尧③禹④黄帝</text></g>
<g id="b5-7-7-2" class="n"><rect x="412" y="4299" width="191" height="20"/><text x="416.5" y="4312.5">A.①②③④B.②③①④C.④②①③D.③④①②</text></g>
<g id="b5-7-7-3" class="n"><rect x="251" y="4299" width="143" height="20"/><text x="255.5" y="4312.5">8阅读下列材料，正确回答问题：</text></g>
<g id="b5-7-7-3-1" class="n"><rect x="40" y="4178" width="194" height="56"/><text x="45" y="4191.5"><tspan x="45">大道之行也，天下为公，选贤与能，讲信修睦</tspan><tspan x="45" dy="11.8">。故人不独亲其亲，不独子其子，使老有所终</tspan><tspan x="45" dy="11.8">，壮有所用，幼有所长，鳏、寡、孤、独、废</tspan><tspan x="45" dy="11.8">疾者皆有所养。____《礼记•礼运篇》</tspan></text></g>
<g id="b5-7-7-3-2" class="n"><rect x="40" y="4254" width="194" height="32"/><text x="45" y="4267.5"><tspan x="45">(1)《礼记》中这段材料讲的是什么社会时期</tspan><tspan x="45" dy="11.8">的情况?</tspan></text></g>
<g id="b5-7-7-3-3" class="n"><rect x="40" y="4308" width="194" height="32"/><text x="45" y="4321.5"><tspan x="45">(2)"天下为公，选贤与能"是什么意思?这种办</tspan><tspan x="45" dy="11.8">法历史叫什么?</tspan></text></g>
<g id="b5-7-7-3-4" class="n"><rect x="71" y="4360" width="163" height="20"/><text x="75.5" y="4373.5">(3)举例说明当时是怎样"选贤与能"的?</text></g>
<g id="b5-7-7-3-5" class="n"><rect x="78" y="4401" width="156" height="20"/><text x="82.5" y="4414.5">(4)"贤"与"能"具体指什么样的品质??</text></g>
<g id="b5-8" class="n"><rect x="943" y="4468" width="110" height="20"/><text x="947.5" y="4481.5">【总结提炼，知识升华】</text></g>
<g id="b5-8-1" class="n"><rect x="865" y="4443" width="60" height="20"/><text x="869.5" y="4456.5">1、学习收获</text></g>
<g id="b5-8-2" class="n"><rect x="731" y="4483" width="194" height="44"/><text x="736" y="4496.5"><tspan x="736">2、需要注意的问题：如何在浩瀚的史料中提</tspan><tspan x="736" dy="11.8">取有用的信息，在教学中要让学生体会和感悟</tspan><tspan x="736" dy="11.8">并逐渐掌握方法。</tspan></text></g>
<g id="b5-9" class="n"><rect x="943" y="4548" width="110" height="20"/><text x="947.5" y="4561.5">【课后训练，巩固拓展】</text></g>
<g id="b5-9-1" class="n"><rect x="844" y="4548" width="81" height="20"/><text x="848.5" y="4561.5">课本p16学习测评</text></g>
<g id="b5-10" class="n"><rect x="943" y="4687" width="110" height="20"/><text x="947.5" y="4700.5">【课后反思，自悟自励】</text></g>
<g id="b5-10-1" class="n"><rect x="824" y="4589" width="101" height="20"/><text x="828.5" y="4602.5">自觉预习，独立完成。</text></g>
<g id="b5-10-2" class="n"><rect x="824" y="4630" width="101" height="20"/><text x="828.5" y="4643.5">有疑惑一定要记下来。</text></g>
<g id="b5-10-3" class="n"><rect x="731" y="4672" width="194" height="92"/><text x="736" y="4685.5"><tspan x="736">小组讨论完成，并展示按照老师的要求，分组</tspan><tspan x="736" dy="11.8">展示，(可以抽取一三五组到黑板前展示本组</tspan><tspan x="736" dy="11.8">的学习成果，二四六组准备评价，不参加展示</tspan><tspan x="736" dy="11.8">的同学应认真倾听或认真观察展示情况，随时</tspan><tspan x="736" dy="11.8">准备补充或更正，2、展示完毕后，进行互评(</tspan><tspan x="736" dy="11.8">可以生生互评，组组互评，也可以师生共评。</tspan><tspan x="736" dy="11.8">)</tspan></text></g>
<g id="b5-10-4" class="n"><rect x="824" y="4783" width="101" height="20"/><text x="828.5" y="4796.5">独立完成，老师点评。</text></g>

<!-- 教案4 -->
<g id="b4" class="b"><rect x="1451" y="2619" width="151" height="27"/><text x="1457" y="2637">七年级下册历史11课教案4</text></g>
<g id="b4-1" class="n"><rect x="1619" y="1861" width="72" height="19"/><text x="1623" y="1874">唐朝的民族关系</text></g>
<g id="b4-2" class="n"><rect x="1619" y="1901" width="194" height="20"/><text x="1623.5" y="1914.5">课标内容：了解唐与吐蕃等民族交往的史实。</text></g>
<g id="b4-3" class="n"><rect x="1619" y="2220" width="55" height="20"/><text x="1623" y="2233.5">教学目标：</text></g>
<g id="b4-3-1" class="n"><rect x="1691" y="1973" width="195" height="32"/><text x="1696" y="1986.5"><tspan x="1696">一、知识与能力：①唐朝疆域的四至②唐朝</tspan><tspan x="1696" dy="11.8">与东突厥的关系</tspan></text></g>
<g id="b4-3-1-1" class="n"><rect x="1903" y="1942" width="191" height="20"/><text x="1907.5" y="1955.5">③唐太宗尊为"天可汗"④ 松赞干布统一吐蕃;</text></g>
<g id="b4-3-1-2" class="n"><rect x="1903" y="2008" width="194" height="32"/><text x="1908" y="2021.5"><tspan x="1908">⑤文成公主入藏⑥金城公主入藏⑦唐蕃会盟</tspan><tspan x="1908" dy="11.8">。</tspan></text></g>
<g id="b4-3-1-2-1" class="n"><rect x="2115" y="1982" width="193" height="32"/><text x="2120" y="1995.5"><tspan x="2120">1、通过对唐太宗开明的民族政策及其作用的</tspan><tspan x="2120" dy="11.8">分析，培养学生全面</tspan></text></g>
<g id="b4-3-1-2-1-1" class="n"><rect x="2326" y="1989" width="148" height="20"/><text x="2330.5" y="2002.5">辩证地认识历史问题的思维能力。</text></g>
<g id="b4-3-1-2-2" class="n"><rect x="2115" y="2035" width="193" height="32"/><text x="2120" y="2048.5"><tspan x="2120">2、通过对唐太宗、松赞干布、文成公主、金</tspan><tspan x="2120" dy="11.8">城公主为发展民族关</tspan></text></g>
<g id="b4-3-1-2-2-1" class="n"><rect x="2326" y="2035" width="194" height="32"/><text x="2331" y="2048.5"><tspan x="2331">系所做出贡献的分析，培养学生正确评价历史</tspan><tspan x="2331" dy="11.8">人物的能力。</tspan></text></g>
<g id="b4-3-2" class="n"><rect x="1691" y="2129" width="83" height="20"/><text x="1695.5" y="2142.5">二、过程与方法：</text></g>
<g id="b4-3-2-1" class="n"><rect x="1792" y="2088" width="195" height="44"/><text x="1797" y="2101.5"><tspan x="1797">1、通过对唐朝与突厥、吐蕃等民族关系的了</tspan><tspan x="1797" dy="11.8">解，理解唐朝开明的民族政策对中华民族的发</tspan><tspan x="1797" dy="11.8">展所起的重要作用。</tspan></text></g>
<g id="b4-3-2-2" class="n"><rect x="1792" y="2153" width="195" height="32"/><text x="1797" y="2166.5"><tspan x="1797">2、运用阅读、讨论和联想比较法，探究唐朝</tspan><tspan x="1797" dy="11.8">民族关系发展的原因及其表现。</tspan></text></g>
<g id="b4-3-3" class="n"><rect x="1691" y="2303" width="101" height="20"/><text x="1695.5" y="2316.5">三、情感态度与价值观</text></g>
<g id="b4-3-3-1" class="n"><rect x="1810" y="2206" width="194" height="44"/><text x="1815" y="2219.5"><tspan x="1815">1、唐朝疆域广大，唐政府实行较开明的民族</tspan><tspan x="1815" dy="11.8">政策，各民族之间的友好交往空前频繁。唐朝</tspan><tspan x="1815" dy="11.8">是我国统一的多民族国家的重要发展时期。</tspan></text></g>
<g id="b4-3-3-2" class="n"><rect x="1810" y="2271" width="194" height="32"/><text x="1815" y="2284.5"><tspan x="1815">2、唐太宗开明的民族政策，受到北方各族的</tspan><tspan x="1815" dy="11.8">拥护，被尊为"天可汗"。</tspan></text></g>
<g id="b4-3-3-3" class="n"><rect x="1810" y="2324" width="194" height="32"/><text x="1815" y="2337.5"><tspan x="1815">3、松赞干布、文成公主、金城公主不发展唐</tspan><tspan x="1815" dy="11.8">蕃关系，促进汉藏交往做出了杰出贡献。</tspan></text></g>
<g id="b4-3-3-4" class="n"><rect x="1810" y="2376" width="194" height="44"/><text x="1815" y="2389.5"><tspan x="1815">4、突厥、吐蕃、回纥、南诏等民族都有悠久</tspan><tspan x="1815" dy="11.8">的历史，都对祖国边疆地区的开发和我国民族</tspan><tspan x="1815" dy="11.8">关系的发展，做出了重大贡献。</tspan></text></g>
<g id="b4-3-3-4-1" class="n"><rect x="2022" y="2388" width="187" height="20"/><text x="2026.5" y="2401.5">重点和难点：一、重点：唐朝与吐蕃的关系</text></g>
<g id="b4-3-4" class="n"><rect x="1691" y="2461" width="149" height="20"/><text x="1695.5" y="2474.5">二、难点：唐朝与边疆各族的关系</text></g>
<g id="b4-3-4-1" class="n"><rect x="1856" y="2441" width="111" height="20"/><text x="1860.5" y="2454.5">教学方法：问题导学探究</text></g>
<g id="b4-3-4-2" class="n"><rect x="1856" y="2482" width="78" height="20"/><text x="1860.5" y="2495.5">教学时间：2课时</text></g>
<g id="b4-4" class="n"><rect x="1619" y="2932" width="55" height="20"/><text x="1623" y="2945.5">导学程序：</text></g>
<g id="b4-4-1" class="n"><rect x="1691" y="2523" width="195" height="32"/><text x="1696" y="2536.5"><tspan x="1696">导入新课：1、提问："贞观之治"和"开元盛世</tspan><tspan x="1696" dy="11.8">"的情况?</tspan></text></g>
<g id="b4-4-2" class="n"><rect x="1691" y="2576" width="195" height="44"/><text x="1696" y="2589.5"><tspan x="1696">2、指出：唐朝前期处于繁荣阶段，是我国历</tspan><tspan x="1696" dy="11.8">少有的封建盛世时期。这一时期，唐朝与边疆</tspan><tspan x="1696" dy="11.8">各族的关系得到发展。</tspan></text></g>
<g id="b4-4-2-1" class="n"><rect x="1903" y="2588" width="171" height="20"/><text x="1907.5" y="2601.5">教学纲要：一、天可汗：1、唐朝的疆域</text></g>
<g id="b4-4-3" class="n"><rect x="1691" y="2640" width="88" height="20"/><text x="1695.5" y="2653.5">2、边疆各族的分布</text></g>
<g id="b4-4-4" class="n"><rect x="1691" y="2682" width="99" height="20"/><text x="1695.5" y="2695.5">3、唐朝与突厥的关系</text></g>
<g id="b4-4-5" class="n"><rect x="1691" y="2723" width="115" height="20"/><text x="1695.5" y="2736.5">4、唐太宗被尊为"天可汗"</text></g>
<g id="b4-4-5-1" class="n"><rect x="1824" y="2723" width="191" height="20"/><text x="1828.5" y="2736.5">二、唐蕃和亲与会盟：1、松赞干布统一吐蕃</text></g>
<g id="b4-4-6" class="n"><rect x="1691" y="2764" width="80" height="20"/><text x="1695.5" y="2777.5">2、文成公主入藏</text></g>
<g id="b4-4-7" class="n"><rect x="1691" y="2805" width="80" height="20"/><text x="1695.5" y="2818.5">3、金城公主入藏</text></g>
<g id="b4-4-8" class="n"><rect x="1691" y="2846" width="62" height="20"/><text x="1695.5" y="2859.5">4、唐蕃会盟</text></g>
<g id="b4-4-8-1" class="n"><rect x="1770" y="2846" width="45" height="20"/><text x="1774.5" y="2859.5">课后作业</text></g>
<g id="b4-4-9" class="n"><rect x="1691" y="2886" width="195" height="32"/><text x="1696" y="2899.5"><tspan x="1696">1、唐的疆域：东到( )，西达( )，东北至( )以</tspan><tspan x="1696" dy="11.8">北和( )，南及( )，是当时世界上的国家之一。</tspan></text></g>
<g id="b4-4-10" class="n"><rect x="1691" y="2939" width="195" height="32"/><text x="1696" y="2952.5"><tspan x="1696">2、唐太宗派兵攻打( )突厥，俘其首领( )，对</tspan><tspan x="1696" dy="11.8">他进行了优待。</tspan></text></g>
<g id="b4-4-11" class="n"><rect x="1691" y="2992" width="195" height="32"/><text x="1696" y="3005.5"><tspan x="1696">3、唐太宗( )受到北方各族的拥护，被尊为" "</tspan><tspan x="1696" dy="11.8">。</tspan></text></g>
<g id="b4-4-12" class="n"><rect x="1691" y="3045" width="195" height="44"/><text x="1696" y="3058.5"><tspan x="1696">4、唐朝对西域的管辖：( )在天山以南设立( )</tspan><tspan x="1696" dy="11.8">都护府，( )在天山以北设立( )都护府。这些是</tspan><tspan x="1696" dy="11.8">唐朝对西域地区的统治机构。</tspan></text></g>
<g id="b4-4-13" class="n"><rect x="1691" y="3109" width="195" height="44"/><text x="1696" y="3122.5"><tspan x="1696">5、吐蕃是( )的祖先，很早就居住在( )。7世</tspan><tspan x="1696" dy="11.8">纪前期，吐蕃首领( )统一各部，建立政权，以</tspan><tspan x="1696" dy="11.8">( )( 今西藏的拉萨)为都城。</tspan></text></g>
<g id="b4-4-14" class="n"><rect x="1691" y="3174" width="195" height="32"/><text x="1696" y="3187.5"><tspan x="1696">6、派文成公主与松赞干布和亲的皇帝是( )，</tspan><tspan x="1696" dy="11.8">派金城公主与尺带珠丹和亲的皇帝是( )。</tspan></text></g>
<g id="b4-4-15" class="n"><rect x="1691" y="3228" width="195" height="32"/><text x="1696" y="3241.5"><tspan x="1696">7、尺带珠丹上书唐朝皇帝说，吐蕃同唐朝已</tspan><tspan x="1696" dy="11.8">经" "了。</tspan></text></g>
<g id="b4-4-16" class="n"><rect x="1691" y="3280" width="195" height="32"/><text x="1696" y="3293.5"><tspan x="1696">8、( )至今还屹立在拉萨大昭寺前，成为汉藏</tspan><tspan x="1696" dy="11.8">两族团结友好的象征。</tspan></text></g>
<g id="b4-4-17" class="n"><rect x="1691" y="3333" width="195" height="32"/><text x="1696" y="3346.5"><tspan x="1696">9、( )年，吐蕃与唐朝会盟，盟约里说："患难</tspan><tspan x="1696" dy="11.8">相恤，暴掠不作"。</tspan></text></g>
<g id="b4-5" class="n"><rect x="1619" y="3387" width="55" height="20"/><text x="1623" y="3400.5">教学反思：</text></g>

<!-- 相关文章 -->
<g id="b6" class="b"><rect x="1451" y="3605" width="196" height="44"/><text x="1457" y="3623"><tspan x="1457">七年级下册历史11课教案相关文章</tspan><tspan x="1457" dy="16">:</tspan></text></g>
<g id="b6-1" class="n"><rect x="1665" y="3427" width="148" height="21"/><text x="1670" y="3441">★ 初一历史第十一课教案最新范文</text></g>
<g id="b6-2" class="n"><rect x="1665" y="3467" width="130" height="21"/><text x="1670" y="3481">★ 人教版七年级下册历史教案</text></g>
<g id="b6-3" class="n"><rect x="1665" y="3509" width="148" height="21"/><text x="1670" y="3523">★ 人教版七年级下册历史教案大全</text></g>
<g id="b6-4" class="n"><rect x="1665" y="3549" width="188" height="33"/><text x="1670" y="3562.5"><tspan x="1670">★ 《清朝前期的文学艺术》七下册历史教案 -</tspan><tspan x="1670" dy="11.8">5068儿童网</tspan></text></g>
<g id="b6-5" class="n"><rect x="1665" y="3603" width="166" height="21"/><text x="1670" y="3617">★ 人教版七年级下册历史教案范文大全</text></g>
<g id="b6-6" class="n"><rect x="1665" y="3643" width="130" height="21"/><text x="1670" y="3657">★ 初一历史下册教案最新模板</text></g>
<g id="b6-7" class="n"><rect x="1665" y="3685" width="166" height="21"/><text x="1670" y="3699">★ 《金与南宋的对峙》七下册历史教案</text></g>
<g id="b6-8" class="n"><rect x="1665" y="3725" width="184" height="21"/><text x="1670" y="3739">★ 《清朝前期的文学艺术》七下册历史教案</text></g>
<g id="b6-9" class="n"><rect x="1665" y="3766" width="184" height="21"/><text x="1670" y="3780">★ 《清朝君主专制的强化》七下册历史教案</text></g>
<g id="b6-10" class="n"><rect x="1665" y="3807" width="184" height="21"/><text x="1670" y="3821">★ 初中历史七年级(下册)知识点回顾点2021</text></g>

<g id="watermarks" class="wm">
<text transform="translate(350,708) rotate(-28)">树图 shutu.cn</text>
<text transform="translate(350,1706) rotate(-28)">树图 shutu.cn</text>
<text transform="translate(350,2706) rotate(-28)">树图 shutu.cn</text>
<text transform="translate(350,3708) rotate(-28)">树图 shutu.cn</text>
<text transform="translate(350,4708) rotate(-28)">树图 shutu.cn</text>
<text transform="translate(1626,708) rotate(-28)">树图 shutu.cn</text>
<text transform="translate(1626,1706) rotate(-28)">树图 shutu.cn</text>
<text transform="translate(1626,2706) rotate(-28)">树图 shutu.cn</text>
<text transform="translate(1626,3708) rotate(-28)">树图 shutu.cn</text>
<text transform="translate(1626,4708) rotate(-28)">树图 shutu.cn</text>
</g>
</g>
</svg>
